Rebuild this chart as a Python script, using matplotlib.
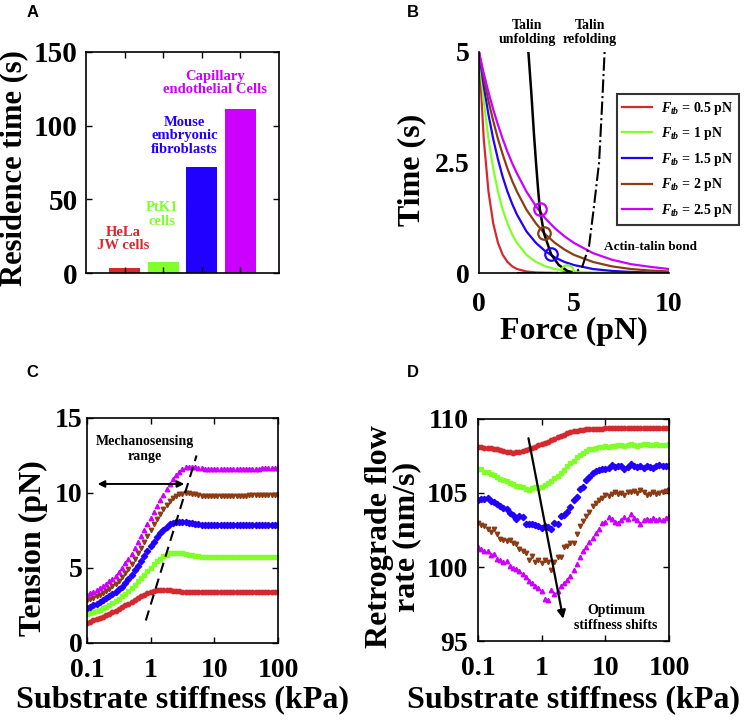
import numpy as np
import matplotlib
matplotlib.use('Agg')
import matplotlib.pyplot as plt
from matplotlib.ticker import NullLocator

plt.rcParams['font.family'] = ['Liberation Serif', 'DejaVu Serif']
plt.rcParams['font.weight'] = 'bold'
plt.rcParams['axes.labelweight'] = 'bold'
plt.rcParams['mathtext.fontset'] = 'custom'
plt.rcParams['mathtext.it'] = 'Liberation Serif:italic:bold'
plt.rcParams['mathtext.rm'] = 'Liberation Serif:bold'
plt.rcParams['mathtext.bf'] = 'Liberation Serif:bold'

RED = '#d42a2f'
GREEN = '#80ff2a'
BLUE = '#2200ff'
BROWN = '#8c3c14'
MAGENTA = '#cc00ff'
COLORS = [RED, GREEN, BLUE, BROWN, MAGENTA]

# ---- panel A: residence time
cell_types = ['HeLa\nJW cells', 'PtK1\ncells', 'Mouse\nembryonic\nfibroblasts',
              'Capillary\nendothelial Cells']
residence_time = [3.5, 7.2, 72, 111]

# ---- panel B: time vs force
force = [0, 0.25, 0.5, 0.75, 1, 1.25, 1.5, 1.75, 2, 2.5, 3, 3.5, 4, 4.5, 5, 6, 7, 8, 9, 10]
time_05 = [5, 3.03, 1.84, 1.12, 0.68, 0.41, 0.25, 0.15, 0.09, 0.034, 0.012, 0.005, 0.002,
           0.001, 0, 0, 0, 0, 0, 0]
time_10 = [5, 3.89, 3.03, 2.36, 1.84, 1.43, 1.12, 0.87, 0.68, 0.41, 0.25, 0.15, 0.09,
           0.056, 0.034, 0.012, 0.005, 0.002, 0.001, 0]
time_15 = [5, 4.23, 3.58, 3.03, 2.57, 2.17, 1.84, 1.56, 1.32, 0.94, 0.68, 0.49, 0.35,
           0.25, 0.18, 0.09, 0.047, 0.024, 0.012, 0.006]
time_20 = [5, 4.41, 3.89, 3.44, 3.03, 2.68, 2.36, 2.08, 1.84, 1.43, 1.12, 0.87, 0.68,
           0.53, 0.41, 0.25, 0.15, 0.09, 0.056, 0.034]
time_25 = [5, 4.52, 4.09, 3.70, 3.35, 3.03, 2.74, 2.48, 2.25, 1.84, 1.51, 1.23, 1.01,
           0.83, 0.68, 0.45, 0.30, 0.20, 0.14, 0.09]
ftb_labels = ['0.5', '1', '1.5', '2', '2.5']

unfold_force = [2.6, 2.75, 2.9, 3.0, 3.1, 3.2, 3.42, 3.8, 4.2, 4.65, 5.0]
unfold_time = [5.0, 4.1, 3.1, 2.5, 1.95, 1.45, 0.9, 0.42, 0.18, 0.05, 0.0]
refold_force = [2.0, 4.0, 5.09, 5.44, 5.79, 6.05, 6.32, 6.49, 6.61]
refold_time = [0, 0, 0.02, 0.15, 0.6, 1.5, 2.5, 3.9, 5.0]
cross_force = [4.65, 3.8, 3.42, 3.2]
cross_time = [0.05, 0.42, 0.9, 1.45]

# ---- panels C and D: stiffness sweep
stiffness = np.logspace(-1, 2, 61)

tension_05 = [1.35, 1.42, 1.50, 1.58, 1.66, 1.75, 1.84, 1.94, 2.04, 2.15,
              2.26, 2.38, 2.50, 2.62, 2.74, 2.86, 2.98, 3.10, 3.21, 3.31,
              3.39, 3.45, 3.50, 3.52, 3.53, 3.52, 3.50, 3.48, 3.46, 3.44,
              3.42, 3.41, 3.40, 3.40, 3.39, 3.39, 3.39, 3.39, 3.39, 3.39,
              3.39, 3.39, 3.40, 3.40, 3.40, 3.40, 3.40, 3.40, 3.40, 3.40,
              3.40, 3.40, 3.41, 3.41, 3.41, 3.41, 3.41, 3.41, 3.41, 3.41,
              3.41]
tension_10 = [1.90, 1.97, 2.05, 2.13, 2.22, 2.31, 2.41, 2.52, 2.64, 2.77,
              2.93, 3.10, 3.28, 3.47, 3.67, 3.88, 4.10, 4.33, 4.56, 4.79,
              5.02, 5.24, 5.44, 5.62, 5.77, 5.89, 5.97, 6.01, 6.02, 6.00,
              5.97, 5.93, 5.89, 5.85, 5.81, 5.78, 5.76, 5.75, 5.74, 5.73,
              5.73, 5.73, 5.73, 5.74, 5.74, 5.74, 5.74, 5.75, 5.75, 5.75,
              5.75, 5.75, 5.75, 5.75, 5.75, 5.75, 5.75, 5.75, 5.75, 5.75,
              5.75]
tension_15 = [2.35, 2.43, 2.52, 2.62, 2.73, 2.85, 2.98, 3.12, 3.27, 3.43,
              3.59, 3.75, 4.00, 4.27, 4.55, 4.85, 5.16, 5.48, 5.80, 6.12,
              6.44, 6.75, 7.04, 7.30, 7.54, 7.74, 7.90, 8.00, 8.06, 8.09,
              8.09, 8.07, 8.03, 7.99, 7.95, 7.91, 7.88, 7.86, 7.85, 7.84,
              7.84, 7.84, 7.84, 7.84, 7.84, 7.85, 7.85, 7.85, 7.85, 7.85,
              7.85, 7.86, 7.86, 7.86, 7.86, 7.86, 7.86, 7.86, 7.86, 7.86,
              7.86]
tension_20 = [2.85, 2.93, 3.02, 3.12, 3.23, 3.35, 3.48, 3.62, 3.78, 3.95,
              4.15, 4.38, 4.64, 4.93, 5.25, 5.60, 5.97, 6.36, 6.75, 7.14,
              7.52, 7.90, 8.26, 8.60, 8.92, 9.20, 9.45, 9.65, 9.80, 9.90,
              9.95, 9.97, 9.97, 9.94, 9.90, 9.86, 9.82, 9.80, 9.79, 9.79,
              9.79, 9.79, 9.80, 9.80, 9.80, 9.81, 9.81, 9.82, 9.82, 9.83,
              9.83, 9.84, 9.84, 9.85, 9.85, 9.86, 9.86, 9.87, 9.87, 9.88,
              9.88]
tension_25 = [3.20, 3.30, 3.41, 3.53, 3.66, 3.80, 3.95, 4.11, 4.29, 4.49,
              4.72, 5.00, 5.30, 5.62, 5.96, 6.32, 6.70, 7.10, 7.50, 7.90,
              8.30, 8.70, 9.10, 9.50, 9.88, 10.24, 10.58, 10.90, 11.18, 11.42,
              11.60, 11.72, 11.76, 11.75, 11.72, 11.68, 11.65, 11.62, 11.61, 11.60,
              11.60, 11.60, 11.60, 11.60, 11.60, 11.61, 11.61, 11.61, 11.62, 11.62,
              11.62, 11.62, 11.63, 11.63, 11.63, 11.64, 11.64, 11.64, 11.65, 11.65,
              11.65]

flow_05 = [108.10, 108.08, 108.07, 108.05, 108.02, 107.98, 107.95, 107.90, 107.85, 107.80,
           107.78, 107.72, 107.74, 107.79, 107.86, 107.93, 108.00, 108.07, 108.14, 108.21,
           108.28, 108.37, 108.46, 108.56, 108.66, 108.76, 108.86, 108.95, 109.03, 109.10,
           109.16, 109.21, 109.25, 109.28, 109.30, 109.32, 109.33, 109.34, 109.35, 109.35,
           109.36, 109.36, 109.36, 109.37, 109.36, 109.37, 109.37, 109.36, 109.37, 109.37,
           109.37, 109.38, 109.37, 109.37, 109.38, 109.37, 109.38, 109.38, 109.37, 109.38,
           109.38]
flow_10 = [106.62, 106.60, 106.45, 106.42, 106.30, 106.22, 106.10, 105.95, 105.90, 105.80,
           105.68, 105.62, 105.50, 105.48, 105.40, 105.30, 105.22, 105.35, 105.40, 105.32,
           105.38, 105.55, 105.70, 105.80, 106.00, 106.15, 106.35, 106.55, 106.80, 107.00,
           107.15, 107.40, 107.60, 107.70, 107.85, 107.95, 108.00, 108.05, 108.10, 108.12,
           108.15, 108.08, 108.20, 108.18, 108.22, 108.25, 108.18, 108.22, 108.28, 108.25,
           108.20, 108.22, 108.28, 108.30, 108.25, 108.22, 108.28, 108.26, 108.22, 108.27,
           108.30]
flow_15 = [104.55, 104.58, 104.62, 104.65, 104.45, 104.40, 104.25, 104.15, 104.00, 103.90,
           103.65, 103.50, 103.25, 103.45, 103.40, 102.90, 102.90, 102.92, 102.85, 102.75,
           102.65, 102.78, 102.70, 102.55, 102.95, 102.90, 103.45, 103.50, 103.70, 104.05,
           104.50, 104.70, 105.25, 105.40, 105.85, 106.10, 106.35, 106.50, 106.55, 106.65,
           106.60, 106.70, 106.90, 106.75, 106.85, 106.80, 106.60, 106.75, 106.95, 106.85,
           106.75, 106.80, 106.70, 106.85, 106.75, 106.70, 106.85, 106.90, 106.80, 106.85,
           106.80]
flow_20 = [103.00, 102.85, 102.80, 102.60, 102.35, 102.55, 102.25, 101.90, 101.85, 101.75,
           101.80, 101.65, 101.55, 101.20, 101.05, 100.95, 100.50, 100.75, 100.35, 100.45,
           100.30, 100.45, 100.35, 99.80, 100.35, 100.70, 100.65, 101.35, 101.45, 101.65,
           101.60, 102.25, 102.80, 103.10, 103.45, 103.70, 104.15, 104.35, 104.50, 104.65,
           104.85, 104.80, 104.95, 105.05, 104.90, 105.00, 104.85, 105.10, 105.05, 105.15,
           105.00, 105.20, 105.10, 104.85, 104.95, 105.05, 104.90, 105.00, 105.10, 105.15,
           105.20]
flow_25 = [101.35, 101.20, 101.10, 101.05, 100.80, 100.90, 100.55, 100.50, 100.35, 100.40,
           100.10, 99.95, 99.85, 99.70, 99.50, 99.30, 99.05, 98.90, 98.70, 98.55,
           98.35, 97.85, 97.75, 98.45, 98.15, 98.35, 98.70, 98.90, 99.15, 99.40,
           99.80, 100.20, 100.65, 101.10, 101.35, 101.70, 101.95, 102.30, 102.60, 102.95,
           103.05, 103.35, 103.25, 103.05, 103.00, 103.20, 103.40, 103.25, 103.60, 103.30,
           103.15, 102.90, 103.20, 103.25, 103.15, 103.30, 103.20, 103.25, 103.15, 103.30,
           103.45]

MARKERS = ['o', 's', 'D', 'v', '^']


def style(ax, fs=20, pad=3):
    ax.tick_params(direction='in', length=4, width=1, top=True, right=True,
                   labelsize=fs, pad=pad)
    for s in ax.spines.values():
        s.set_linewidth(1.2)


fig = plt.figure(figsize=(7.44, 7.23), dpi=100)

# ================= A =================
axA = fig.add_axes([0.1156, 0.6224, 0.2594, 0.3057])
axA.bar([1, 2, 3, 4], residence_time, width=0.8, color=[RED, GREEN, BLUE, MAGENTA])
axA.set_xlim(0, 5)
axA.set_ylim(0, 150)
axA.set_xticks([1, 2, 3, 4])
axA.set_xticklabels([])
axA.set_yticks([0, 50, 100, 150])
style(axA, 21, pad=6)
axA.set_ylabel('Residence time (s)', fontsize=22)
axA.yaxis.set_label_coords(-0.298, 0.475)
label_pos = [(0.96, 23), (1.97, 39.7), (2.55, 93), (3.34, 129)]
for (lx, ly), txt, c in zip(label_pos, cell_types, [RED, GREEN, BLUE, MAGENTA]):
    axA.text(lx, ly, txt, color=c, ha='center', va='center', fontsize=10.5,
             linespacing=1.05)

# ================= B =================
axB = fig.add_axes([0.6438, 0.6224, 0.2554, 0.3057])
handles = []
for t, c, lab in zip([time_05, time_10, time_15, time_20, time_25], COLORS, ftb_labels):
    h, = axB.plot(force, t, color=c, lw=1.6, label=r'$F_{tb}$ = ' + lab + ' pN')
    handles.append(h)
axB.plot(unfold_force, unfold_time, color='black', lw=1.8)
axB.plot(refold_force, refold_time, color='black', lw=1.5, ls='-.')
for fx, ty, c in zip(cross_force, cross_time, [GREEN, BLUE, BROWN, MAGENTA]):
    axB.plot(fx, ty, 'o', ms=9, mfc='none', mec=c, mew=1.6)
axB.set_xlim(0, 10)
axB.set_ylim(0, 5)
axB.set_xticks([0, 5, 10])
axB.set_yticks([0, 2.5, 5])
axB.set_yticklabels(['0', '2.5', '5'])
style(axB, 20)
axB.tick_params(top=False, right=False, length=0)
axB.tick_params(axis='y', pad=7)
axB.tick_params(axis='x', pad=14)
axB.spines['top'].set_visible(False)
axB.spines['right'].set_visible(False)
axB.set_xlabel('Force (pN)', fontsize=23)
axB.xaxis.set_label_coords(0.5, -0.2)
axB.set_ylabel('Time (s)', fontsize=23)
axB.yaxis.set_label_coords(-0.279, 0.466)
axB.text(2.53, 5.43, 'Talin\nunfolding', ha='center', va='center', fontsize=10,
         linespacing=1.1)
axB.text(5.84, 5.43, 'Talin\nrefolding', ha='center', va='center', fontsize=10,
         linespacing=1.1)
axB.text(6.58, 0.59, 'Actin-talin bond', ha='left', va='center', fontsize=9.5)
leg = axB.legend(handles=handles, loc='upper left', bbox_to_anchor=(0.726, 0.81),
                 fancybox=False, edgecolor='black', fontsize=10, handlelength=2.15,
                 borderpad=0.4, labelspacing=0.62, handletextpad=0.65,
                 borderaxespad=0)
leg.get_frame().set_linewidth(1.5)

# ================= C =================
axC = fig.add_axes([0.1169, 0.1107, 0.2567, 0.3112])
for y, c, m in zip([tension_05, tension_10, tension_15, tension_20, tension_25],
                   COLORS, MARKERS):
    axC.plot(stiffness, y, ls='none', marker=m, ms=3.2, color=c, mec=c)
axC.plot([0.84, 5.27], [1.5, 12.5], color='black', lw=1.5, ls=(0, (5, 3)))
axC.annotate('', xy=(0.147, 10.6), xytext=(3.37, 10.6),
             arrowprops=dict(arrowstyle='<|-|>', color='black', lw=1.4,
                             mutation_scale=10, shrinkA=0, shrinkB=0))
axC.text(0.81, 12.9, 'Mechanosensing\nrange', ha='center', va='center', fontsize=10,
         linespacing=1.2)
axC.set_xscale('log')
axC.set_xlim(0.1, 100)
axC.set_ylim(0, 15)
axC.set_xticks([0.1, 1, 10, 100])
axC.set_xticklabels(['0.1', '1', '10', '100'])
axC.xaxis.set_minor_locator(NullLocator())
axC.set_yticks([0, 5, 10, 15])
style(axC, 20, pad=3)
axC.tick_params(axis='x', pad=11)
axC.set_xlabel('Substrate stiffness (kPa)', fontsize=23)
axC.xaxis.set_label_coords(0.5, -0.187)
axC.set_ylabel('Tension (pN)', fontsize=23)
axC.yaxis.set_label_coords(-0.204, 0.42)

# ================= D =================
axD = fig.add_axes([0.6425, 0.1134, 0.2567, 0.3071])
for y, c, m in zip([flow_05, flow_10, flow_15, flow_20, flow_25], COLORS, MARKERS):
    axD.plot(stiffness, y, ls='none', marker=m, ms=3.2, color=c, mec=c)
axD.annotate('', xy=(2.18, 96.5), xytext=(0.62, 108.7),
             arrowprops=dict(arrowstyle='-|>', color='black', lw=1.6,
                             mutation_scale=12, shrinkA=0, shrinkB=0))
axD.text(14.7, 96.55, 'Optimum\nstiffness shifts', ha='center', va='center',
         fontsize=10, linespacing=1.2)
axD.set_xscale('log')
axD.set_xlim(0.1, 100)
axD.set_ylim(95, 110)
axD.set_xticks([0.1, 1, 10, 100])
axD.set_xticklabels(['0.1', '1', '10', '100'])
axD.xaxis.set_minor_locator(NullLocator())
axD.set_yticks([95, 100, 105, 110])
style(axD, 20, pad=7)
axD.tick_params(axis='x', pad=11)
axD.set_xlabel('Substrate stiffness (kPa)', fontsize=23)
axD.xaxis.set_label_coords(0.5, -0.198)
axD.set_ylabel('Retrograde flow\nrate (nm/s)', fontsize=23, linespacing=0.9)
axD.yaxis.set_label_coords(-0.298, 0.468)

# panel letters
for x, y, s in [(0.036, 0.993, 'A'), (0.547, 0.993, 'B'),
                (0.036, 0.495, 'C'), (0.547, 0.495, 'D')]:
    fig.text(x, y, s, fontsize=12, fontweight='bold', va='top', ha='left',
             family=['Liberation Sans', 'DejaVu Sans'])

fig.savefig('out.png', dpi=100)
